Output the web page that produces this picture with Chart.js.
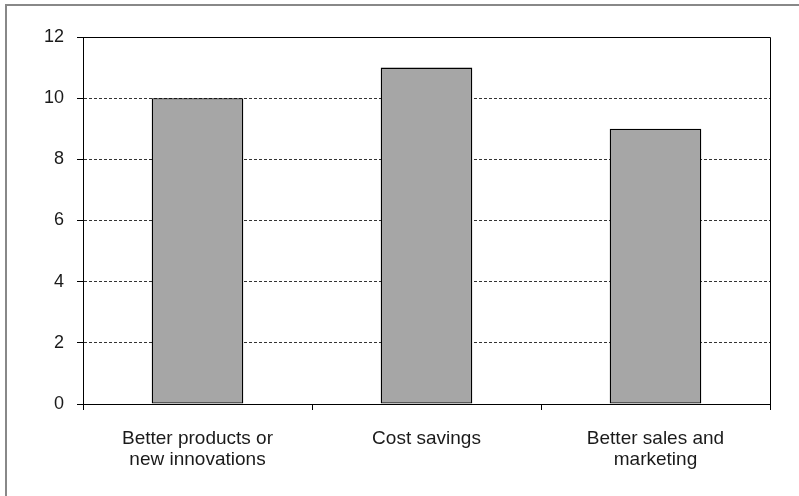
<!DOCTYPE html>
<html>
<head>
<meta charset="utf-8">
<style>
  html, body { margin: 0; padding: 0; background: #fff; }
  #wrap { position: relative; width: 799px; height: 496px; }
</style>
<script src="https://cdn.jsdelivr.net/npm/chart.js@4/dist/chart.umd.min.js"></script>
</head>
<body>
<div id="wrap"><canvas id="c" width="799" height="496"></canvas></div>
<script>
// Reasons given, with number of responses
const categories = [
  ['Better products or', 'new innovations'],
  ['Cost savings'],
  ['Better sales and', 'marketing']
];
const responses = [10, 11, 9];
const yTicks = [0, 2, 4, 6, 8, 10, 12];

const FONT = "'Liberation Sans', Arial, sans-serif";

// Outer frame of the figure plus the closed box around the plot area
const framePlugin = {
  id: 'frames',
  beforeDraw(chart) {
    const ctx = chart.ctx;
    ctx.save();
    ctx.strokeStyle = '#888';
    ctx.lineWidth = 2;
    ctx.beginPath();
    ctx.moveTo(6, 1000);
    ctx.lineTo(6, 5);
    ctx.lineTo(1000, 5);
    ctx.stroke();
    ctx.restore();
  },
  afterDraw(chart) {
    const a = chart.chartArea;
    const ctx = chart.ctx;
    ctx.save();
    ctx.strokeStyle = '#000';
    ctx.lineWidth = 1;
    ctx.beginPath();
    ctx.moveTo(Math.round(a.left) + 0.5, Math.round(a.bottom) + 0.5);
    ctx.lineTo(Math.round(a.left) + 0.5, Math.round(a.top) + 0.5);
    ctx.lineTo(Math.round(a.right) + 0.5, Math.round(a.top) + 0.5);
    ctx.lineTo(Math.round(a.right) + 0.5, Math.round(a.bottom) + 0.5);
    ctx.stroke();
    ctx.restore();
  }
};

new Chart(document.getElementById('c'), {
  type: 'bar',
  data: {
    labels: categories,
    datasets: [{
      data: responses,
      backgroundColor: '#a6a6a6',
      borderColor: '#000',
      borderWidth: 1.3,
      borderSkipped: false,
      barPercentage: 0.4,
      categoryPercentage: 1.0
    }]
  },
  options: {
    responsive: false,
    animation: false,
    devicePixelRatio: 1,
    layout: { padding: { left: 0, top: 37, right: 29, bottom: 0 } },
    plugins: { legend: { display: false }, tooltip: { enabled: false } },
    scales: {
      x: {
        offset: true,
        grid: {
          offset: true,
          drawOnChartArea: false,
          drawTicks: true,
          tickLength: 6,
          color: '#000',
          lineWidth: 1
        },
        border: { display: true, color: '#000', width: 1 },
        ticks: {
          color: '#1a1a1a',
          font: { family: FONT, size: 19, lineHeight: 1.1 },
          padding: 18,
          maxRotation: 0,
          autoSkip: false
        },
        afterFit(scale) { scale.height = 92; }
      },
      y: {
        min: 0,
        max: 12,
        afterBuildTicks(scale) { scale.ticks = yTicks.map(v => ({ value: v })); },
        grid: {
          drawOnChartArea: true,
          drawTicks: true,
          tickLength: 6,
          color: '#333',
          lineWidth: 1,
          tickColor: '#000'
        },
        border: { display: true, color: '#000', width: 1, dash: [3, 2] },
        ticks: {
          color: '#1a1a1a',
          font: { family: FONT, size: 18 },
          padding: 13
        },
        afterFit(scale) { scale.width = 83; }
      }
    }
  },
  plugins: [framePlugin]
});
</script>
</body>
</html>
